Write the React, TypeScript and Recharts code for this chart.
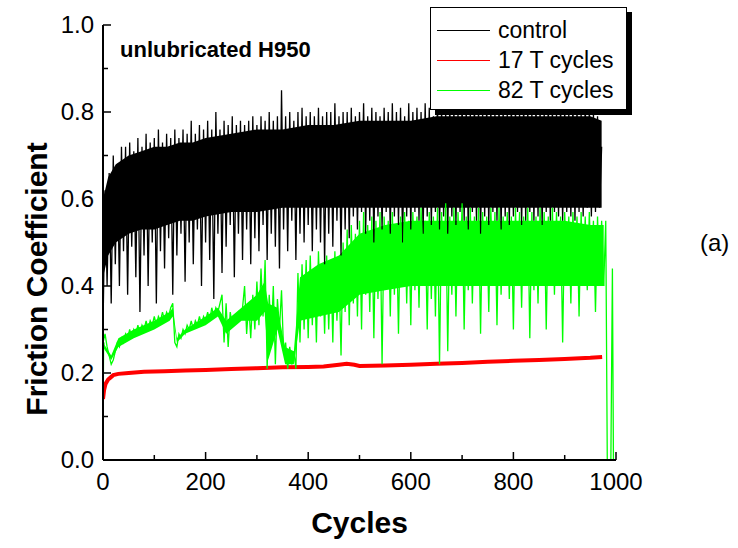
import { ComposedChart, XAxis, YAxis, Line, Area, Legend, Label } from 'recharts';

const FONT = "'Liberation Sans', Arial, Helvetica, sans-serif";

// axis ticks
const xTicks = [0, 100, 200, 300, 400, 500, 600, 700, 800, 900, 1000];
const yTicks = [0, 0.1, 0.2, 0.3, 0.4, 0.5, 0.6, 0.7, 0.8, 0.9, 1.0];

// control: dense core of the trace + the spikes around it
const controlBandCycles = [0, 10, 25, 50, 75, 100, 125, 150, 175, 200, 250, 300, 350, 400, 450, 500, 550, 600, 650, 700, 750, 800, 850, 900, 950, 972];
const controlBandLow = [0.42, 0.47, 0.5, 0.52, 0.53, 0.53, 0.54, 0.55, 0.55, 0.56, 0.57, 0.57, 0.58, 0.58, 0.58, 0.58, 0.58, 0.58, 0.58, 0.58, 0.58, 0.58, 0.58, 0.58, 0.58, 0.58];
const controlBandHigh = [0.6, 0.65, 0.68, 0.7, 0.71, 0.72, 0.72, 0.73, 0.73, 0.74, 0.75, 0.76, 0.76, 0.77, 0.77, 0.78, 0.78, 0.78, 0.79, 0.79, 0.79, 0.79, 0.79, 0.79, 0.79, 0.78];

// spike readings, one every SPIKE_STEP cycles from cycle 0
const SPIKE_STEP = 4;
const controlSpikes = [
  0.30, 0.62, 0.40, 0.66, 0.36, 0.70, 0.45, 0.68, 0.40, 0.72,
  0.48, 0.72, 0.38, 0.73, 0.49, 0.71, 0.42, 0.74, 0.34, 0.72,
  0.47, 0.75, 0.40, 0.73, 0.50, 0.74, 0.36, 0.76, 0.48, 0.73,
  0.44, 0.75, 0.51, 0.74, 0.38, 0.76, 0.47, 0.74, 0.52, 0.76,
  0.41, 0.75, 0.50, 0.78, 0.45, 0.75, 0.53, 0.77, 0.40, 0.76,
  0.50, 0.78, 0.46, 0.76, 0.37, 0.80, 0.52, 0.76, 0.43, 0.78,
  0.49, 0.77, 0.54, 0.79, 0.42, 0.77, 0.52, 0.78, 0.46, 0.77,
  0.53, 0.78, 0.45, 0.79, 0.51, 0.77, 0.48, 0.79, 0.54, 0.78,
  0.46, 0.80, 0.52, 0.78, 0.49, 0.79, 0.44, 0.85, 0.53, 0.79,
  0.48, 0.80, 0.55, 0.78, 0.46, 0.80, 0.52, 0.81, 0.50, 0.79,
  0.54, 0.80, 0.48, 0.79, 0.53, 0.81, 0.50, 0.79, 0.45, 0.80,
  0.52, 0.80, 0.49, 0.82, 0.55, 0.79, 0.47, 0.80, 0.53, 0.80,
  0.51, 0.81, 0.56, 0.79, 0.53, 0.80, 0.57, 0.82, 0.52, 0.79,
  0.55, 0.81, 0.50, 0.80, 0.56, 0.79, 0.53, 0.81, 0.57, 0.80,
  0.52, 0.82, 0.56, 0.80, 0.54, 0.81, 0.50, 0.79, 0.56, 0.82,
  0.53, 0.80, 0.57, 0.81, 0.55, 0.80, 0.52, 0.82, 0.56, 0.81,
  0.54, 0.79, 0.57, 0.82, 0.53, 0.81, 0.56, 0.80, 0.52, 0.82,
  0.56, 0.81, 0.54, 0.80, 0.57, 0.82, 0.55, 0.81, 0.53, 0.80,
  0.57, 0.82, 0.55, 0.81, 0.52, 0.80, 0.56, 0.82, 0.54, 0.81,
  0.57, 0.80, 0.55, 0.82, 0.53, 0.81, 0.56, 0.80, 0.54, 0.82,
  0.56, 0.81, 0.57, 0.80, 0.54, 0.82, 0.55, 0.81, 0.57, 0.80,
  0.55, 0.82, 0.56, 0.81, 0.54, 0.80, 0.57, 0.82, 0.55, 0.81,
  0.57, 0.80, 0.56, 0.82, 0.55, 0.81, 0.57, 0.80, 0.56, 0.82,
  0.55, 0.81, 0.57, 0.80, 0.56, 0.82, 0.58, 0.81, 0.56, 0.80,
  0.57, 0.79, 0.58, 0.72,
];

// 17 T cycles
const redCycles = [0, 2, 5, 10, 15, 20, 30, 50, 80, 120, 160, 200, 250, 300, 350, 400, 430, 460, 475, 490, 500, 550, 600, 650, 700, 750, 800, 850, 900, 950, 973];
const redValues = [0.14, 0.16, 0.175, 0.185, 0.19, 0.195, 0.198, 0.2, 0.203, 0.204, 0.206, 0.207, 0.209, 0.211, 0.213, 0.214, 0.215, 0.219, 0.221, 0.219, 0.216, 0.217, 0.219, 0.221, 0.223, 0.226, 0.228, 0.23, 0.232, 0.235, 0.237];

// 82 T cycles
const greenBandCycles = [0, 16, 30, 60, 100, 130, 136, 144, 160, 200, 224, 240, 270, 300, 315, 322, 340, 355, 372, 384, 420, 460, 500, 550, 600, 650, 700, 750, 800, 850, 900, 950, 976];
const greenBandLow = [0.26, 0.23, 0.26, 0.28, 0.3, 0.32, 0.33, 0.27, 0.29, 0.31, 0.33, 0.29, 0.32, 0.32, 0.34, 0.23, 0.3, 0.22, 0.22, 0.32, 0.33, 0.34, 0.38, 0.39, 0.4, 0.4, 0.4, 0.4, 0.4, 0.4, 0.4, 0.4, 0.4];
const greenBandHigh = [0.27, 0.24, 0.28, 0.3, 0.32, 0.34, 0.35, 0.28, 0.3, 0.33, 0.35, 0.32, 0.35, 0.38, 0.41, 0.36, 0.35, 0.26, 0.25, 0.42, 0.45, 0.47, 0.52, 0.54, 0.55, 0.55, 0.55, 0.55, 0.55, 0.55, 0.55, 0.54, 0.54];
const greenSpikes = [
  0.27, 0.29, 0.26, 0.24, 0.22, 0.23, 0.25, 0.27, 0.26, 0.28,
  0.27, 0.29, 0.28, 0.30, 0.28, 0.30, 0.29, 0.31, 0.29, 0.31,
  0.30, 0.32, 0.30, 0.32, 0.31, 0.33, 0.31, 0.33, 0.32, 0.34,
  0.32, 0.34, 0.33, 0.35, 0.36, 0.27, 0.26, 0.29, 0.28, 0.30,
  0.29, 0.31, 0.30, 0.32, 0.30, 0.32, 0.31, 0.33, 0.31, 0.33,
  0.32, 0.34, 0.32, 0.35, 0.33, 0.35, 0.34, 0.36, 0.38, 0.27,
  0.36, 0.26, 0.34, 0.31, 0.33, 0.32, 0.34, 0.33, 0.35, 0.40,
  0.29, 0.36, 0.28, 0.38, 0.30, 0.41, 0.31, 0.44, 0.33, 0.46,
  0.21, 0.38, 0.28, 0.40, 0.22, 0.37, 0.30, 0.39, 0.25, 0.27,
  0.21, 0.26, 0.22, 0.25, 0.21, 0.43, 0.27, 0.45, 0.30, 0.46,
  0.28, 0.47, 0.31, 0.44, 0.27, 0.48, 0.33, 0.45, 0.29, 0.47,
  0.30, 0.46, 0.27, 0.48, 0.32, 0.44, 0.24, 0.50, 0.34, 0.53,
  0.31, 0.54, 0.36, 0.52, 0.33, 0.55, 0.30, 0.57, 0.38, 0.54,
  0.34, 0.56, 0.28, 0.55, 0.37, 0.57, 0.22, 0.56, 0.40, 0.55,
  0.33, 0.57, 0.38, 0.54, 0.29, 0.56, 0.41, 0.57, 0.36, 0.55,
  0.31, 0.57, 0.39, 0.56, 0.35, 0.58, 0.42, 0.55, 0.30, 0.57,
  0.37, 0.56, 0.33, 0.58, 0.22, 0.57, 0.40, 0.59, 0.25, 0.56,
  0.38, 0.58, 0.33, 0.57, 0.41, 0.59, 0.30, 0.56, 0.39, 0.58,
  0.36, 0.56, 0.42, 0.58, 0.29, 0.57, 0.40, 0.56, 0.34, 0.58,
  0.41, 0.57, 0.31, 0.58, 0.38, 0.56, 0.43, 0.57, 0.37, 0.56,
  0.30, 0.58, 0.40, 0.57, 0.35, 0.56, 0.42, 0.58, 0.28, 0.57,
  0.39, 0.56, 0.36, 0.58, 0.43, 0.57, 0.30, 0.56, 0.40, 0.58,
  0.38, 0.57, 0.42, 0.56, 0.27, 0.57, 0.41, 0.56, 0.36, 0.57,
  0.43, 0.56, 0.33, 0.57, 0.40, 0.56, 0.39, 0.57, 0.42, 0.55,
  0.34, 0.56, 0.41, 0.55, 0.40,
];
const greenHeadCycles = [0, 1, 2];
const greenHeadValues = [0, 0.25, 0.27];
const greenTailCycles = [976, 980, 983, 986, 990, 993, 995];
const greenTailValues = [0.4, 0.55, 0, 0, 0, 0.44, 0];

const legendItems = [
  { name: 'control', color: '#000000' },
  { name: '17 T cycles', color: '#ff0000' },
  { name: '82 T cycles', color: '#00ff00' },
];

const controlBand = controlBandCycles.map((c, i) => ({ c, band: [controlBandLow[i], controlBandHigh[i]] }));
const controlLine = controlSpikes.map((v, i) => ({ c: i * SPIKE_STEP, v }));
const redLine = redCycles.map((c, i) => ({ c, v: redValues[i] }));
const greenBand = greenBandCycles.map((c, i) => ({ c, band: [greenBandLow[i], greenBandHigh[i]] }));
const greenLine = greenSpikes.map((v, i) => ({ c: i * SPIKE_STEP, v }));
const greenHead = greenHeadCycles.map((c, i) => ({ c, v: greenHeadValues[i] }));
const greenTail = greenTailCycles.map((c, i) => ({ c, v: greenTailValues[i] }));

const isMajorX = (v: number) => v % 200 === 0;
const isMajorY = (v: number) => Math.round(v * 10) % 2 === 0;

const BottomTick = ({ x, y, payload }: any) => {
  const major = isMajorX(payload.value);
  return (
    <g>
      <line x1={x} x2={x} y1={y} y2={y - (major ? 8 : 5)} stroke="#000" strokeWidth={1.5} />
      {major && (
        <text x={x} y={y + 30} textAnchor="middle" fontSize={24} fontFamily={FONT} fill="#000">
          {payload.value}
        </text>
      )}
    </g>
  );
};

const TopTick = ({ x, y, payload }: any) => (
  <line x1={x} x2={x} y1={y} y2={y + (isMajorX(payload.value) ? 8 : 5)} stroke="#000" strokeWidth={1.5} />
);

const LeftTick = ({ x, y, payload }: any) => {
  const major = isMajorY(payload.value);
  return (
    <g>
      <line x1={x} x2={x + (major ? 8 : 5)} y1={y} y2={y} stroke="#000" strokeWidth={1.5} />
      {major && (
        <text x={x - 9} y={y + 8} textAnchor="end" fontSize={24} fontFamily={FONT} fill="#000">
          {payload.value.toFixed(1)}
        </text>
      )}
    </g>
  );
};

const RightTick = ({ x, y, payload }: any) => (
  <line x1={x} x2={x - (isMajorY(payload.value) ? 8 : 5)} y1={y} y2={y} stroke="#000" strokeWidth={1.5} />
);

const LegendBox = () => (
  <div
    style={{
      width: 197,
      height: 103,
      boxSizing: 'border-box',
      background: '#fff',
      border: '1px solid #000',
      boxShadow: '5px 5px 0 #000',
      fontFamily: FONT,
      fontSize: 23,
      color: '#000',
      paddingTop: 7,
    }}
  >
    {legendItems.map((item) => (
      <div key={item.name} style={{ display: 'flex', alignItems: 'center', height: 30 }}>
        <div style={{ width: 53, height: 1, background: item.color, marginLeft: 6, marginRight: 8 }} />
        <span>{item.name}</span>
      </div>
    ))}
  </div>
);

const axisStroke = { stroke: '#000', strokeWidth: 2 };

const App = () => {
  return (
    <div style={{ position: 'absolute', left: 0, top: 0, width: 738, height: 548, background: '#fff' }}>
      <ComposedChart width={738} height={548} margin={{ top: 25, right: 122, bottom: 0, left: 0 }}>
        <XAxis
          xAxisId="b"
          dataKey="c"
          type="number"
          domain={[0, 1000]}
          ticks={xTicks}
          interval={0}
          height={88}
          tickSize={0}
          tickMargin={0}
          tickLine={false}
          axisLine={axisStroke}
          tick={<BottomTick />}
          allowDataOverflow
        >
          <Label
            content={() => (
              <text x={359.5} y={533} textAnchor="middle" fontSize={30} fontWeight="bold" fontFamily={FONT} fill="#000">
                Cycles
              </text>
            )}
          />
        </XAxis>
        <XAxis
          xAxisId="t"
          orientation="top"
          type="number"
          domain={[0, 1000]}
          ticks={xTicks}
          interval={0}
          height={0}
          tickSize={0}
          tickMargin={0}
          tickLine={false}
          axisLine={axisStroke}
          tick={<TopTick />}
        />
        <YAxis
          yAxisId="l"
          type="number"
          domain={[0, 1]}
          ticks={yTicks}
          interval={0}
          width={103}
          tickSize={0}
          tickMargin={0}
          tickLine={false}
          axisLine={axisStroke}
          tick={<LeftTick />}
          allowDataOverflow
        >
          <Label
            content={() => (
              <text
                x={0}
                y={0}
                transform="translate(47, 279) rotate(-90)"
                textAnchor="middle"
                fontSize={30}
                fontWeight="bold"
                fontFamily={FONT}
                fill="#000"
              >
                Friction Coefficient
              </text>
            )}
          />
        </YAxis>
        <YAxis
          yAxisId="r"
          orientation="right"
          type="number"
          domain={[0, 1]}
          ticks={yTicks}
          interval={0}
          width={0}
          tickSize={0}
          tickMargin={0}
          tickLine={false}
          axisLine={axisStroke}
          tick={<RightTick />}
        />

        <Area xAxisId="b" yAxisId="l" data={controlBand} dataKey="band" type="linear" stroke="none" fill="#000" fillOpacity={1} isAnimationActive={false} legendType="none" />
        <Line xAxisId="b" yAxisId="l" data={controlLine} dataKey="v" type="linear" stroke="#000" strokeWidth={1.3} dot={false} isAnimationActive={false} name="control" />
        <Line xAxisId="b" yAxisId="l" data={redLine} dataKey="v" type="linear" stroke="#ff0000" strokeWidth={4} dot={false} isAnimationActive={false} name="17 T cycles" />
        <Area xAxisId="b" yAxisId="l" data={greenBand} dataKey="band" type="linear" stroke="none" fill="#00ff00" fillOpacity={1} isAnimationActive={false} legendType="none" />
        <Line xAxisId="b" yAxisId="l" data={greenLine} dataKey="v" type="linear" stroke="#00ff00" strokeWidth={1.3} dot={false} isAnimationActive={false} name="82 T cycles" />
        <Line xAxisId="b" yAxisId="l" data={greenHead} dataKey="v" type="linear" stroke="#00ff00" strokeWidth={1.3} dot={false} isAnimationActive={false} legendType="none" />
        <Line xAxisId="b" yAxisId="l" data={greenTail} dataKey="v" type="linear" stroke="#00ff00" strokeWidth={1.3} dot={false} isAnimationActive={false} legendType="none" />

        <Legend
          layout="horizontal"
          verticalAlign="middle"
          align="center"
          wrapperStyle={{ position: 'absolute', left: 430, top: 7, width: 197, height: 103 }}
          content={() => <LegendBox />}
        />
      </ComposedChart>
      <svg width={738} height={548} style={{ position: 'absolute', left: 0, top: 0, pointerEvents: 'none' }}>
        <text x={120} y={57} fontSize={22} fontWeight="bold" fontFamily={FONT} fill="#000">
          unlubricated H950
        </text>
        <text x={700} y={251} fontSize={24} fontFamily={FONT} fill="#000">
          (a)
        </text>
      </svg>
    </div>
  );
};

export default App;
